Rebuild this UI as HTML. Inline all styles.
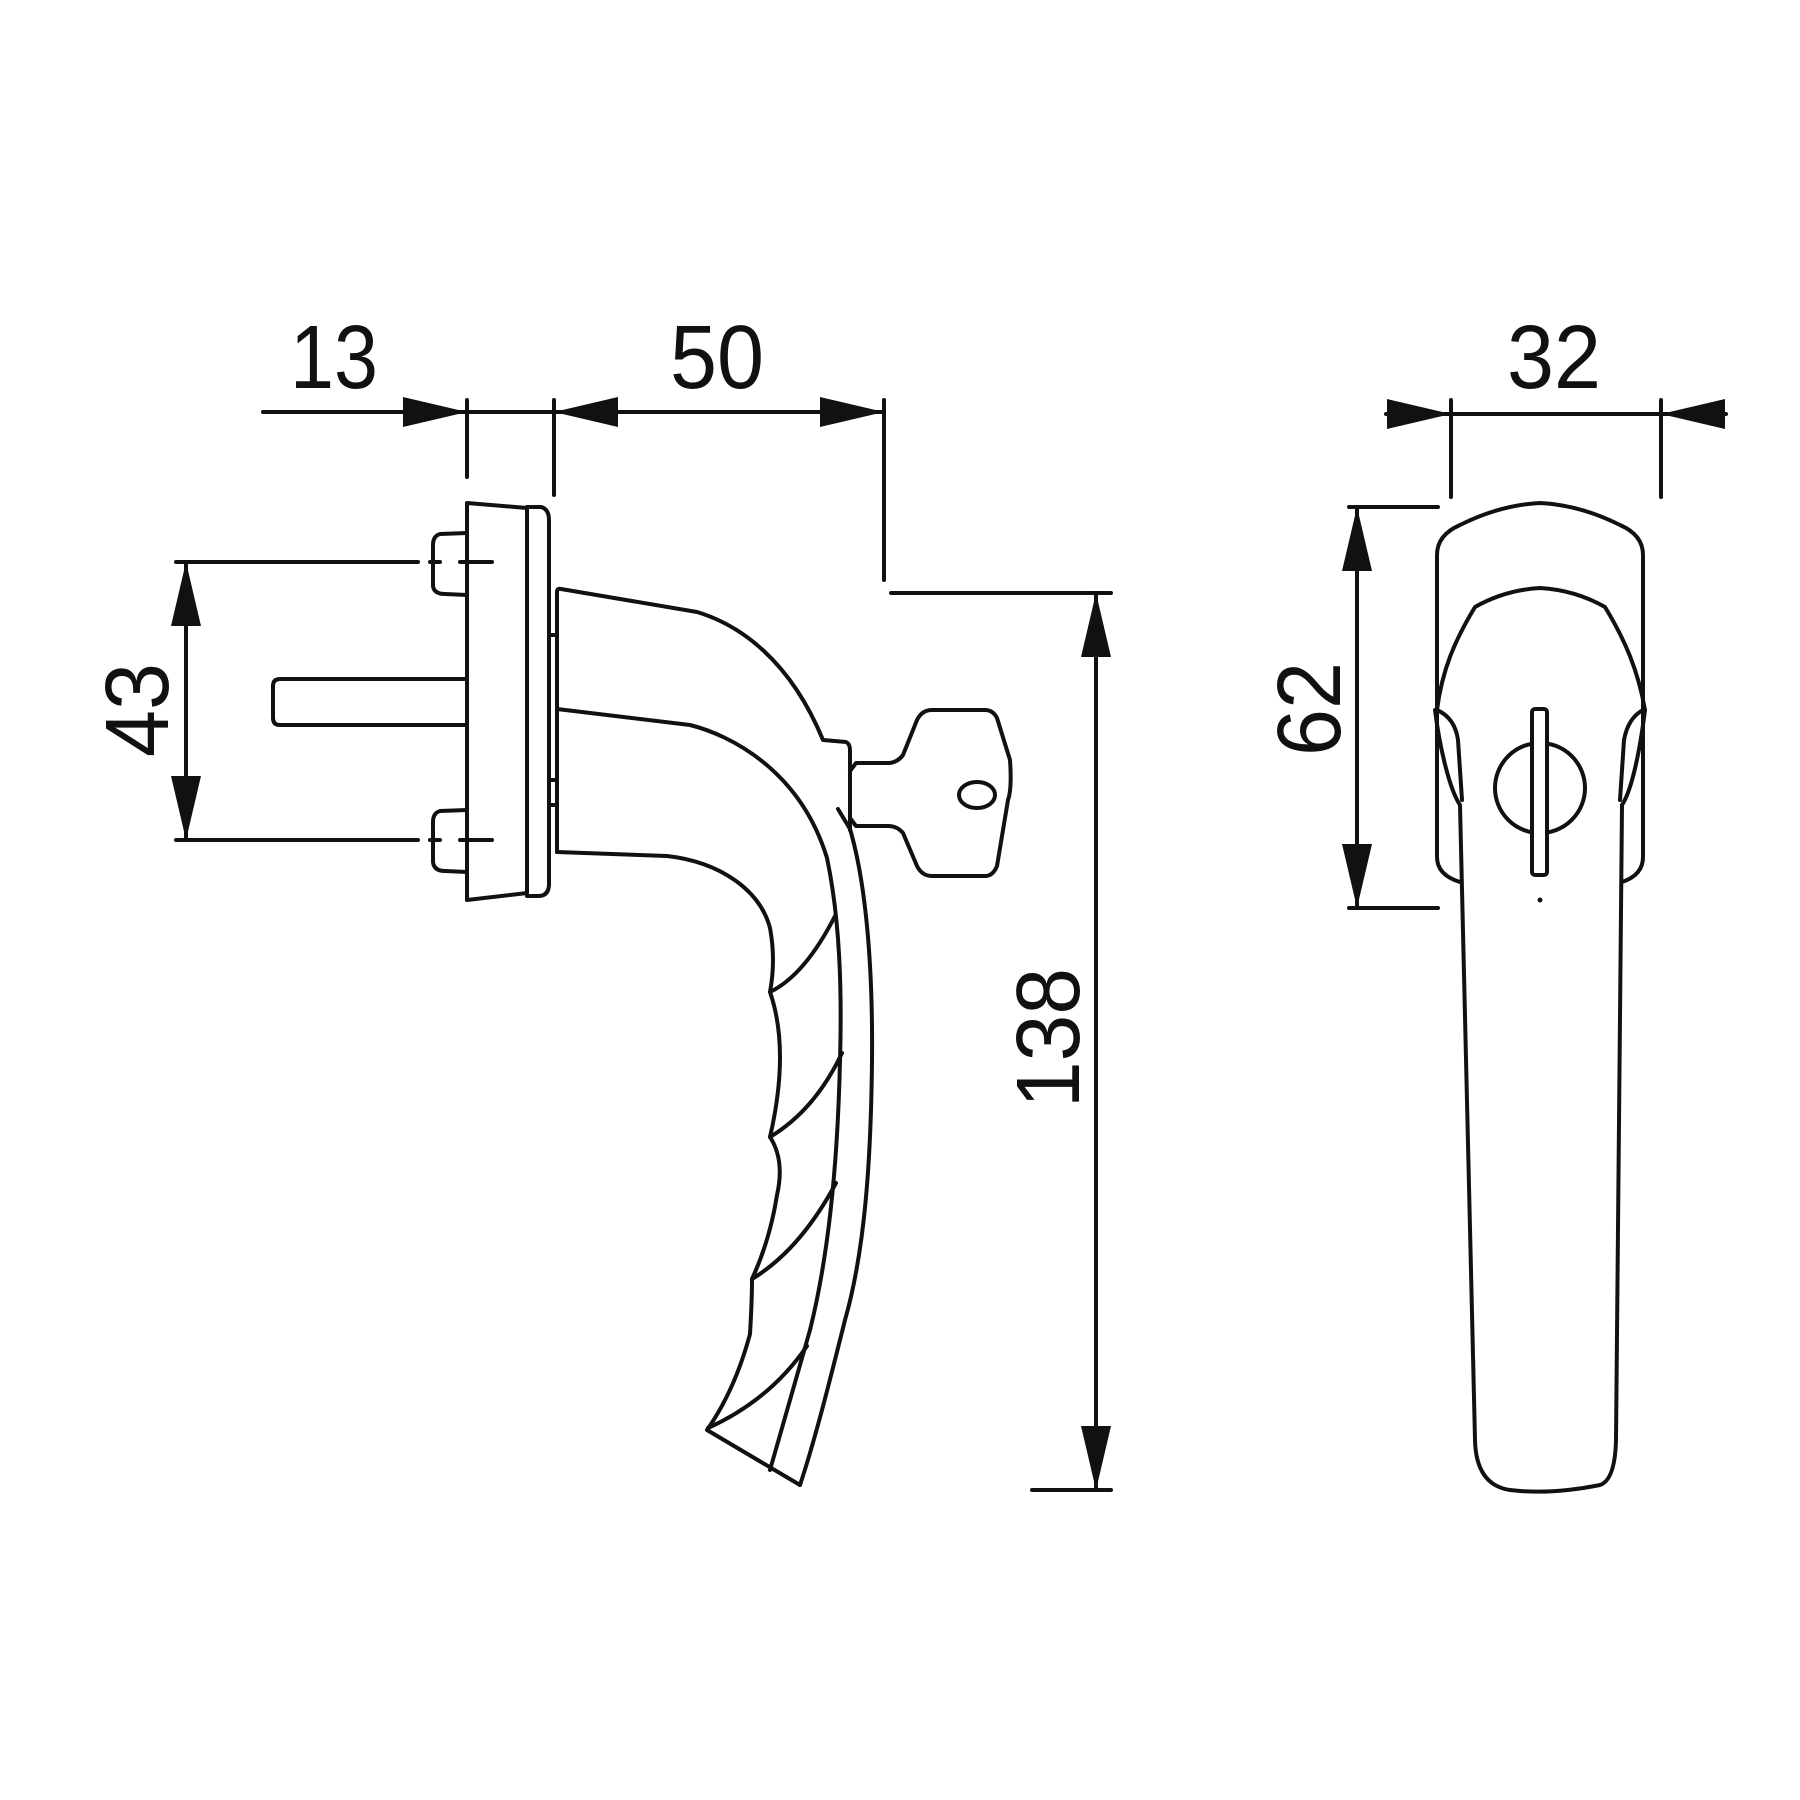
<!DOCTYPE html>
<html><head><meta charset="utf-8"><style>
html,body{margin:0;padding:0;background:#fff;}
svg{display:block;}
text{font-family:"Liberation Sans",Arial,sans-serif;font-size:90px;fill:#111;}
</style></head><body>
<svg width="1800" height="1800" viewBox="0 0 1800 1800" xmlns="http://www.w3.org/2000/svg">
<g stroke="#111" stroke-width="4" fill="none" stroke-linejoin="round" stroke-linecap="round">
<line x1="263" y1="412" x2="884" y2="412"/>
<line x1="467" y1="400" x2="467" y2="477"/>
<line x1="554" y1="400" x2="554" y2="495"/>
<line x1="884" y1="400" x2="884" y2="580"/>
<line x1="891" y1="593" x2="1111" y2="593"/>
<line x1="1096" y1="593" x2="1096" y2="1490"/>
<line x1="1032" y1="1490" x2="1111" y2="1490"/>
<line x1="1386" y1="414" x2="1726" y2="414"/>
<line x1="1451" y1="400" x2="1451" y2="497"/>
<line x1="1661" y1="400" x2="1661" y2="497"/>
<line x1="186" y1="562" x2="186" y2="840"/>
<line x1="176" y1="562" x2="418" y2="562"/>
<line x1="176" y1="840" x2="418" y2="840"/>
<line x1="430" y1="562" x2="440" y2="562"/><line x1="460" y1="562" x2="492" y2="562"/>
<line x1="430" y1="840" x2="440" y2="840"/><line x1="460" y1="840" x2="492" y2="840"/>
<line x1="1357" y1="507" x2="1357" y2="908"/>
<line x1="1349" y1="507" x2="1438" y2="507"/>
<line x1="1349" y1="908" x2="1438" y2="908"/>

<path d="M467,503 L527,508 L527,893 L467,900 Z"/>
<path d="M527,507 L541,507 Q549,509 549,520 L549,884 Q549,896 538,896 L527,896"/>
<path d="M467,533 L440,534 Q433,536 433,545 L433,586 Q434,594 445,594 L467,595"/>
<path d="M467,810 L440,811 Q433,813 433,822 L433,862 Q434,871 445,871 L467,872"/>
<path d="M467,679 L280,679 Q273,679 273,686 L273,718 Q273,725 280,725 L467,725"/>
<line x1="549" y1="635" x2="557" y2="635"/>
<line x1="549" y1="780" x2="557" y2="780"/>
<line x1="549" y1="805" x2="557" y2="805"/>

<path d="M557,852 L557,592 Q557,588 561,589 L697,612 C740,625 790,660 823,740 L846,742 Q850,744 850,750 L850,771"/>
<path d="M557,709 L690,725 C730,735 800,770 827,858 C840,920 842,990 840,1060 C838,1150 830,1250 810,1330 L770,1470"/>
<path d="M838,809 L850,829 C865,880 873,960 872,1060 C871,1160 865,1250 845,1320 C830,1380 815,1440 800,1485"/>
<path d="M557,852 L667,856 C720,862 760,890 770,928 Q776,960 770,992 Q790,1050 770,1137 Q785,1160 777,1195 Q770,1240 752,1279 Q752,1300 750,1334 Q735,1390 707,1430 L800,1485"/>
<path d="M770,992 Q805,975 835,916"/>
<path d="M770,1137 Q815,1110 842,1053"/>
<path d="M752,1279 Q800,1250 836,1183"/>
<path d="M708,1428 Q770,1400 807,1346"/>
<line x1="850" y1="771" x2="850" y2="830"/>

<path d="M850,771 L856,763 L888,763 Q897,763 903,755 L917,720 Q922,710 932,710 L985,710 Q993,710 997,718 L1010,760 Q1012,789 1008,800 L997,866 Q993,876 985,876 L932,876 Q922,876 917,866 L903,833 Q897,826 888,826 L856,826 L850,818"/>
<ellipse cx="977" cy="795" rx="18" ry="13"/>

<path d="M1437,710 L1437,555 Q1437,535 1460,525 Q1500,505 1540,503 Q1580,505 1620,525 Q1643,535 1643,555 L1643,857 Q1643,875 1622,882"/>
<path d="M1437,710 L1437,857 Q1437,875 1460,882"/>
<path d="M1437,710 C1442,670 1455,640 1475,607 Q1505,590 1540,588 Q1575,590 1605,607 C1625,640 1638,670 1645,710"/>
<path d="M1435,710 C1440,750 1450,790 1460,805 L1475,1440 Q1476,1485 1510,1490 Q1550,1495 1600,1485 Q1615,1480 1616,1440 L1622,805 C1632,790 1640,750 1645,710"/>
<path d="M1437,710 Q1455,718 1458,740 L1462,800"/>
<path d="M1643,710 Q1628,718 1624,740 L1620,800"/>
<circle cx="1540" cy="788" r="45"/>
<rect x="1532" y="709" width="15" height="166" rx="3" fill="#fff"/>
</g>
<circle cx="1540" cy="900" r="2.5" fill="#111"/>

<g fill="#111">
<polygon points="467,412 403,397 403,427"/>
<polygon points="554,412 618,397 618,427"/>
<polygon points="884,412 820,397 820,427"/>
<polygon points="1451,414 1387,399 1387,429"/>
<polygon points="1661,414 1725,399 1725,429"/>
<polygon points="186,562 171,626 201,626"/>
<polygon points="186,840 171,776 201,776"/>
<polygon points="1096,593 1081,657 1111,657"/>
<polygon points="1096,1490 1081,1426 1111,1426"/>
<polygon points="1357,507 1342,571 1372,571"/>
<polygon points="1357,908 1342,844 1372,844"/>
</g>

<text x="334" y="388" text-anchor="middle" textLength="88" lengthAdjust="spacingAndGlyphs">13</text>
<text x="717" y="388" text-anchor="middle" textLength="94" lengthAdjust="spacingAndGlyphs">50</text>
<text x="1554" y="388" text-anchor="middle" textLength="94" lengthAdjust="spacingAndGlyphs">32</text>
<text transform="translate(168,710) rotate(-90)" text-anchor="middle" textLength="94" lengthAdjust="spacingAndGlyphs">43</text>
<text transform="translate(1340,709) rotate(-90)" text-anchor="middle" textLength="94" lengthAdjust="spacingAndGlyphs">62</text>
<text transform="translate(1079,1038) rotate(-90)" text-anchor="middle" textLength="140" lengthAdjust="spacingAndGlyphs">138</text>
</svg>
</body></html>
